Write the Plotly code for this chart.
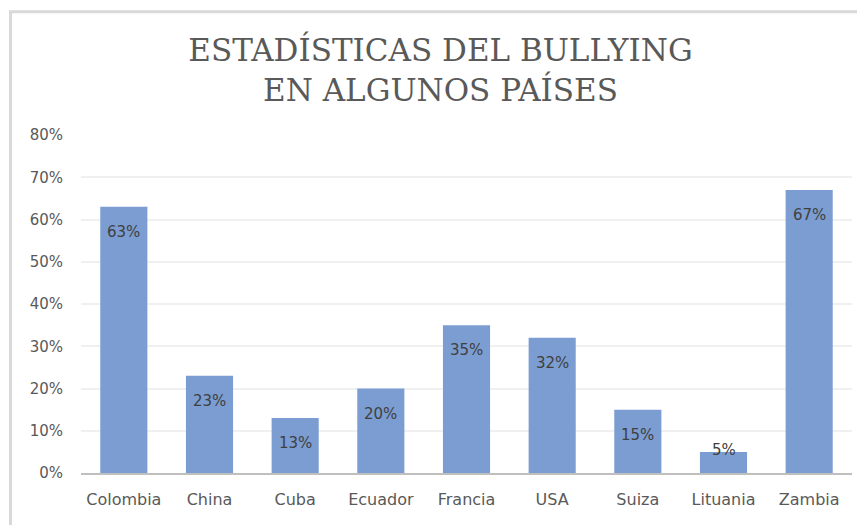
import plotly.graph_objects as go

categories = ["Colombia", "China", "Cuba", "Ecuador", "Francia", "USA", "Suiza", "Lituania", "Zambia"]
values = [0.63, 0.23, 0.13, 0.20, 0.35, 0.32, 0.15, 0.05, 0.67]
tick_vals = [0, 0.1, 0.2, 0.3, 0.4, 0.5, 0.6, 0.7, 0.8]
tick_text = ["0%", "10%", "20%", "30%", "40%", "50%", "60%", "70%", "80%"]
title_text = "ESTADÍSTICAS DEL BULLYING<br>EN ALGUNOS PAÍSES"

bar_color = "#7b9dd1"
label_color = "#404040"
tick_color = "#595959"
ui_font = "DejaVu Sans"

fig = go.Figure()
fig.add_trace(go.Bar(
    x=categories, y=values,
    marker=dict(color=bar_color, line=dict(width=0)),
    hoverinfo="x+y",
))

for c, v in zip(categories, values):
    fig.add_annotation(
        x=c, y=v, text=f"{round(v*100)}%", showarrow=False,
        yshift=-25 if v > 0.08 else 2,
        font=dict(family=ui_font, size=15, color=label_color),
    )

fig.update_layout(
    width=865, height=525,
    margin=dict(l=73, r=21, t=127, b=60),
    paper_bgcolor="white", plot_bgcolor="white",
    bargap=0.45,
    showlegend=False,
    title=dict(
        text=title_text, x=0.5, xanchor="center", y=0.900, yanchor="middle",
        font=dict(family="DejaVu Serif", size=31, color="#595959"),
    ),
    xaxis=dict(
        showgrid=False, showline=True, linecolor="#bfbfbf", linewidth=2,
        ticks="", tickfont=dict(family=ui_font, size=16, color=tick_color),
        ticklabelstandoff=11,
    ),
    yaxis=dict(
        range=[0, 0.8], tickvals=tick_vals, ticktext=tick_text,
        showgrid=True, gridcolor="#f0f0f0", gridwidth=2,
        zeroline=False, showline=False, ticks="",
        tickfont=dict(family=ui_font, size=15, color=tick_color),
        ticklabelstandoff=17,
    ),
    shapes=[dict(
        type="rect", xref="paper", yref="paper", x0=-0.0914, x1=1.05, y0=-0.3, y1=1.365,
        line=dict(color="#d9d9d9", width=3), fillcolor="rgba(0,0,0,0)", layer="below",
    )],
)

fig.write_html("out.html")
